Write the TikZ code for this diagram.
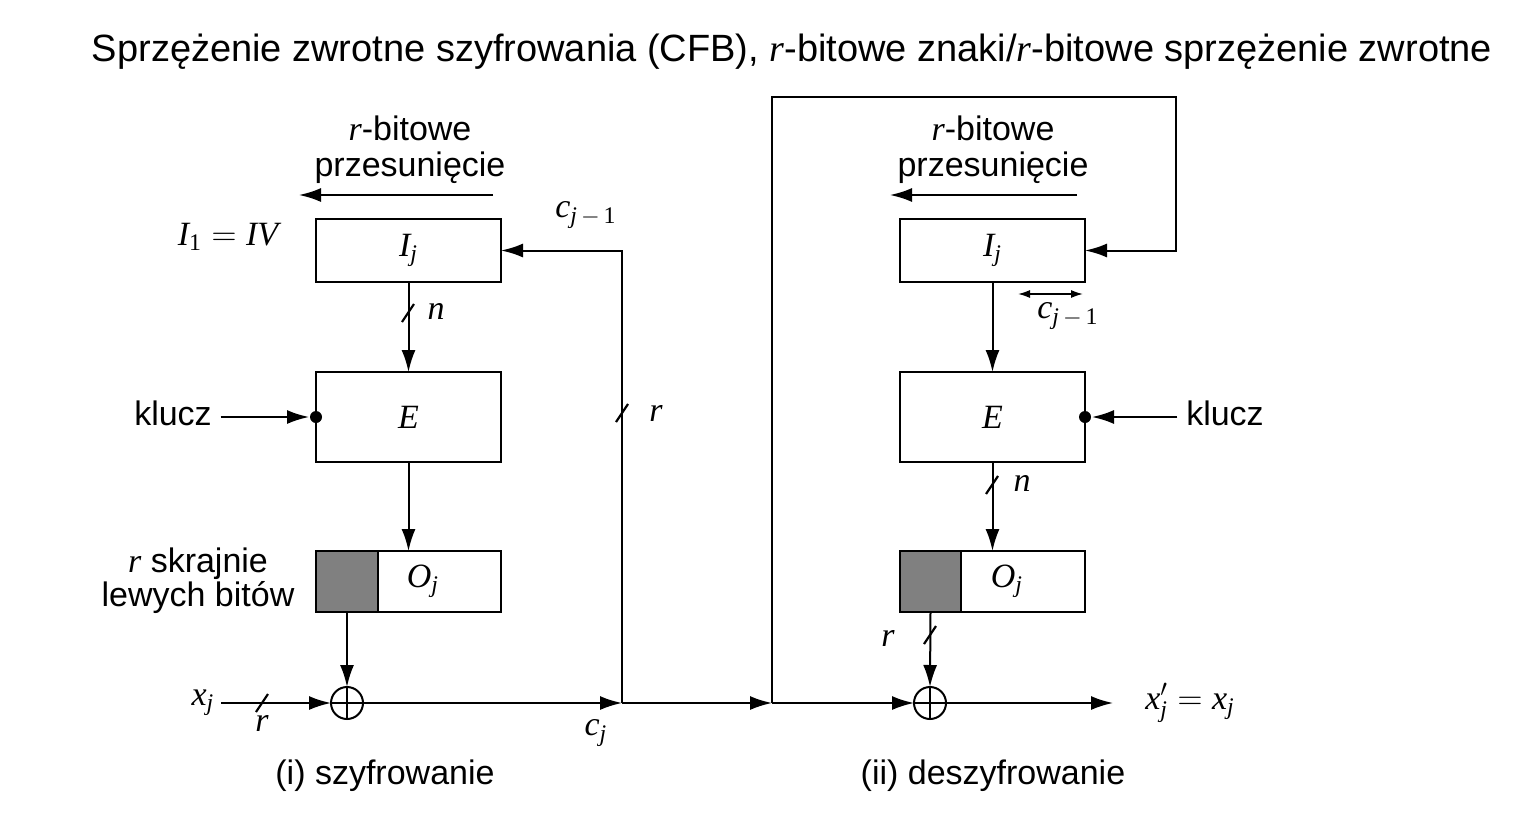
\documentclass[tikz,border=0pt]{standalone}
\usepackage{mathspec}
\setmainfont{Liberation Sans}
\setmathsfont(Digits,Latin)[Scale=1]{Liberation Serif}
\usetikzlibrary{arrows.meta,calc}
\begin{document}
\begin{tikzpicture}[x=0.5pt,y=-0.5pt,
  line width=1pt,
  arr/.style={-{Latex[length=11pt,width=7pt]}},
  box/.style={draw,line width=1.2pt,minimum width=92.5pt,inner sep=0pt,outer sep=0pt,font=\fontsize{17}{20}\selectfont},
  lab/.style={font=\fontsize{17}{20}\selectfont,inner sep=1pt},
  xor/.style={draw,circle,minimum size=16pt,inner sep=0pt,outer sep=0pt},
  dot/.style={circle,fill,minimum size=6pt,inner sep=0pt},
  sl/.style={line width=1.1pt}
]
\useasboundingbox (0,0) rectangle (1515,819);
% title
\node[font=\fontsize{19}{23}\selectfont] (title) at (792,52) {Sprzężenie zwrotne szyfrowania (CFB), $r$-bitowe znaki/$r$-bitowe sprzężenie zwrotne};

% ===== left: encryption =====
\node[lab,align=center] (sh1) at (410,150) {$r$-bitowe\\[-2pt]przesunięcie};
\coordinate (sa1) at (493,195);
\coordinate (sb1) at (299,195);
\draw[arr] (sa1) -- (sb1);
\node[box,minimum height=31.5pt] (I1) at (408.5,250.5) {$I_j$};
\node[lab] (iv) at (228,237) {$I_1 = IV$};
\node[box,minimum height=45pt] (E1) at (408.5,417) {$E$};
\node[box,minimum height=30.5pt] (O1) at (408.5,581.5) {};
\fill[black!50] (O1.north west) rectangle ($(O1.south west)+(31pt,0)$);
\draw[line width=1.2pt] (O1.north west) rectangle ($(O1.south west)+(31pt,0)$);
\draw[line width=1.2pt] (O1.north west) rectangle (O1.south east);
\node[lab] (Oj1) at (423,581) {$O_j$};
\node[lab,align=center] (rs) at (198,581) {$r$ skrajnie\\[-3pt]lewych bitów};
\node[lab] (k1) at (173,413) {klucz};
\node[dot] (d1) at (E1.west) {};
\node[xor] (X1) at (347,703) {};
\draw (X1.north) -- (X1.south) (X1.west) -- (X1.east);
\node[lab] (xj) at (203,703) {$x_j$};
\coordinate (J1) at (622,703);
\coordinate (J2) at (772,703);
\coordinate (s1) at ($(O1.south west)+(15.5pt,0)$);

\draw[arr] (I1.south) -- (E1.north);
\draw[sl] ([shift={(-6,9)}]408,313) -- ([shift={(6,-9)}]408,313);
\node[lab] (n1) at (436,311) {$n$};
\draw[arr] (E1.south) -- (O1.north);
\draw[arr] (k1.east |- d1.west) ++(6,0) -- (d1.west);
\draw[arr] (s1) -- (X1.north);
\draw[arr] (xj.east) ++(4,0) -- (X1.west);
\draw[sl] ([shift={(-6,9)}]262,703) -- ([shift={(6,-9)}]262,703);
\node[lab] (r1) at (262,723) {$r$};
\draw[arr] (X1.east) -- (J1);
\node[lab] (cj) at (596,733) {$c_j$};
\draw[arr] (J1) |- (I1.east);
\draw[sl] ([shift={(-6,9)}]622,413) -- ([shift={(6,-9)}]622,413);
\node[lab] (r2) at (656,413) {$r$};
\node[lab] (cj1) at (586,215) {$c_{j\,-\,1}$};
\draw[arr] (J1) -- (J2);
\node[lab] (enc) at (385,776) {(i) szyfrowanie};

% ===== right: decryption =====
\node[lab,align=center] (sh2) at (993,150) {$r$-bitowe\\[-2pt]przesunięcie};
\coordinate (sa2) at (1077,195);
\coordinate (sb2) at (890,195);
\draw[arr] (sa2) -- (sb2);
\node[box,minimum height=31.5pt] (I2) at (992.5,250.5) {$I_j$};
\node[box,minimum height=45pt] (E2) at (992.5,417) {$E$};
\node[box,minimum height=30.5pt] (O2) at (992.5,581.5) {};
\fill[black!50] (O2.north west) rectangle ($(O2.south west)+(30.5pt,0)$);
\draw[line width=1.2pt] (O2.north west) rectangle ($(O2.south west)+(30.5pt,0)$);
\draw[line width=1.2pt] (O2.north west) rectangle (O2.south east);
\node[lab] (Oj2) at (1007,581) {$O_j$};
\node[lab] (k2) at (1225,413) {klucz};
\node[dot] (d2) at (E2.east) {};
\node[xor] (X2) at (930,703) {};
\draw (X2.north) -- (X2.south) (X2.west) -- (X2.east);
\coordinate (s2) at ($(O2.south west)+(15.25pt,0)$);
\coordinate (T1) at (772,97);
\coordinate (T2) at (1176,97);
\coordinate (out) at (1113,703);
\node[lab] (xo) at (1190,703) {$x'_j = x_j$};

\draw[arr] (J2) -- (T1) -- (T2) |- (I2.east);
\draw[{Latex[length=6pt,width=4pt]}-{Latex[length=6pt,width=4pt]},line width=0.8pt] (1018,294) -- (1083,294);
\node[lab] (cj2) at (1068,316) {$c_{j\,-\,1}$};
\draw[arr] (I2.south) -- (E2.north);
\draw[arr] (k2.west |- d2.east) ++(-6,0) -- (d2.east);
\draw[arr] (E2.south) -- (O2.north);
\draw[sl] ([shift={(-6,9)}]992,485) -- ([shift={(6,-9)}]992,485);
\node[lab] (n2) at (1022,483) {$n$};
\draw[arr] (s2) -- (X2.north);
\draw[sl] ([shift={(-6,9)}]930,635) -- ([shift={(6,-9)}]930,635);
\node[lab] (r3) at (888,638) {$r$};
\draw[arr] (J2) -- (X2.west);
\draw[arr] (X2.east) -- (out);
\node[lab] (dec) at (993,776) {(ii) deszyfrowanie};
\end{tikzpicture}
\end{document}
